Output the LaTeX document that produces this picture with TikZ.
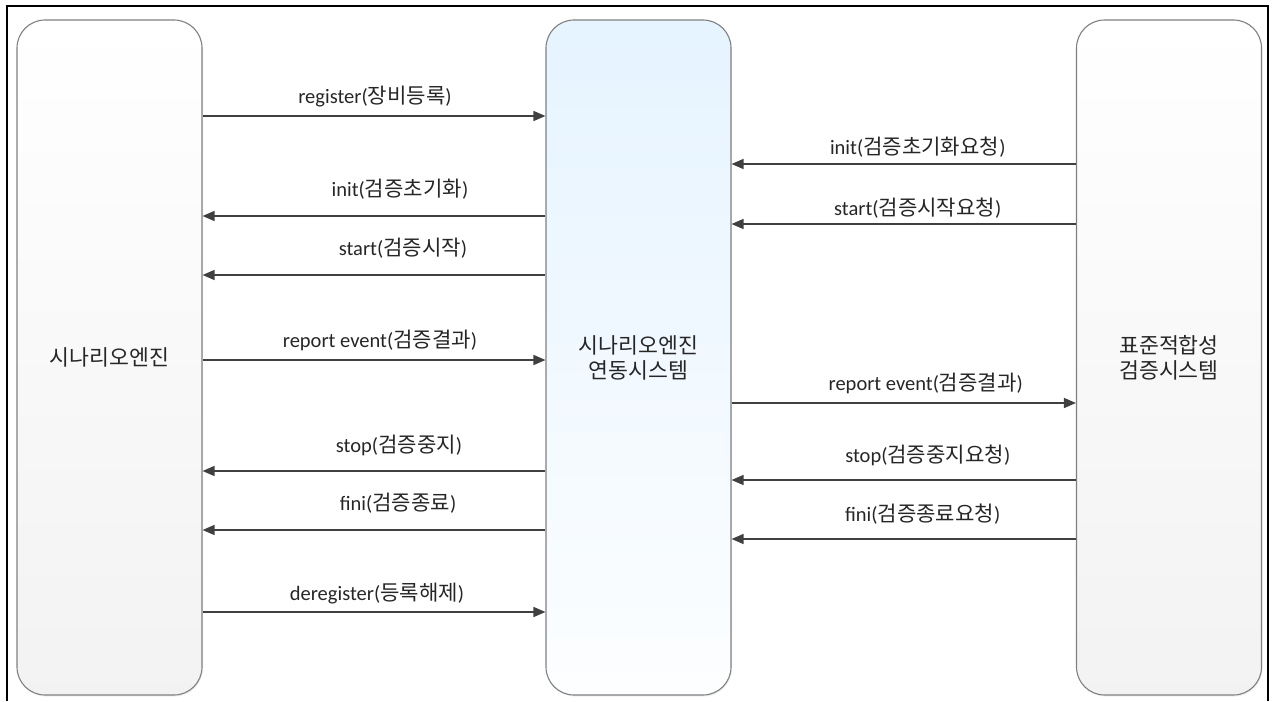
\documentclass[tikz,border=0pt]{standalone}
\usepackage{fontspec}
\setmainfont{Carlito}
\newfontfamily\kr[Scale=1.03]{Noto Sans CJK KR}
\newcommand\K[1]{{\kr #1}}
\usetikzlibrary{arrows.meta,shadows}

\tikzset{
  lane/.style={draw=black!50, line width=1.1pt, rounded corners=28pt,
    minimum width=185pt, minimum height=675pt, align=center,
    font=\fontsize{21}{25}\selectfont\kr, text=black!85,
    drop shadow={shadow xshift=1pt, shadow yshift=-1.5pt, opacity=0.12}},
  greylane/.style={lane, top color=white, bottom color=black!5},
  bluelane/.style={lane, top color=blue!45!cyan!10, bottom color=blue!45!cyan!1},
  msg/.style={draw=black!75, line width=1.4pt,
    -{Triangle[length=12pt,width=10pt]}},
  lbl/.style={midway, anchor=center, inner sep=0pt, text=black!85,
    font=\fontsize{20.5}{24}\selectfont}
}

\begin{document}
\begin{tikzpicture}[x=1pt,y=-1pt]
  \useasboundingbox (0,0) rectangle (1273,701);

  % outer frame (open at the bottom)
  \draw[line width=2pt, black] (7,701) -- (7,6) -- (1268,6) -- (1268,701);

  % the three swim lanes
  \node[greylane] (eng) at (109.5,357.5) {시나리오엔진};
  \node[bluelane] (mid) at (638.5,357.5) {시나리오엔진\\연동시스템};
  \node[greylane] (std) at (1169,357.5) {표준적합성\\검증시스템};

  % messages between the scenario engine and the link system
  \draw[msg] (eng.east |- 0,116) -- (mid.west |- 0,116)
    node[lbl, xshift=1pt, yshift=19pt] {register(\K{장비등록})};
  \draw[msg] (mid.west |- 0,216) -- (eng.east |- 0,216)
    node[lbl, xshift=26pt, yshift=27pt] {init(\K{검증초기화})};
  \draw[msg] (mid.west |- 0,275) -- (eng.east |- 0,275)
    node[lbl, xshift=29pt, yshift=27pt] {start(\K{검증시작})};
  \draw[msg] (eng.east |- 0,360) -- (mid.west |- 0,360)
    node[lbl, xshift=6pt, yshift=20pt] {report event(\K{검증결과})};
  \draw[msg] (mid.west |- 0,471) -- (eng.east |- 0,471)
    node[lbl, xshift=25pt, yshift=26pt] {stop(\K{검증중지})};
  \draw[msg] (mid.west |- 0,530) -- (eng.east |- 0,530)
    node[lbl, xshift=24pt, yshift=27pt] {fini(\K{검증종료})};
  \draw[msg] (eng.east |- 0,612) -- (mid.west |- 0,612)
    node[lbl, xshift=3pt, yshift=18pt] {deregister(\K{등록해제})};

  % messages between the link system and the conformance system
  \draw[msg] (std.west |- 0,164) -- (mid.east |- 0,164)
    node[lbl, xshift=14pt, yshift=17pt] {init(\K{검증초기화요청})};
  \draw[msg] (std.west |- 0,224) -- (mid.east |- 0,224)
    node[lbl, xshift=14pt, yshift=16pt] {start(\K{검증시작요청})};
  \draw[msg] (mid.east |- 0,403) -- (std.west |- 0,403)
    node[lbl, xshift=22pt, yshift=20pt] {report event(\K{검증결과})};
  \draw[msg] (std.west |- 0,480) -- (mid.east |- 0,480)
    node[lbl, xshift=24pt, yshift=25pt] {stop(\K{검증중지요청})};
  \draw[msg] (std.west |- 0,539) -- (mid.east |- 0,539)
    node[lbl, xshift=19pt, yshift=25pt] {fini(\K{검증종료요청})};
\end{tikzpicture}
\end{document}
